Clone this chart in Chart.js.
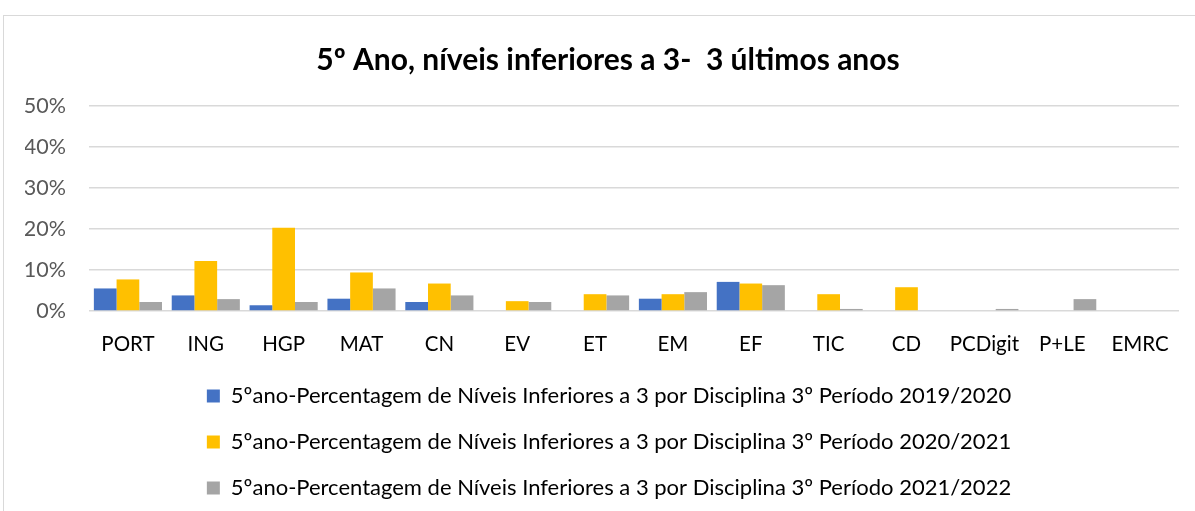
<!DOCTYPE html>
<html>
<head>
<meta charset="utf-8">
<script src="https://cdn.jsdelivr.net/npm/chart.js@4"></script>
<style>
  html, body { margin: 0; padding: 0; background: #fff; overflow: hidden; }
  #frame { position: absolute; left: 3px; top: 15px; width: 1400px; height: 700px; border: 1px solid #d9d9d9; box-sizing: border-box; }
  #wrap { position: absolute; left: 0; top: 0; width: 1195px; height: 511px; }
</style>
</head>
<body>
<div id="frame"></div>
<div id="wrap"><canvas id="c" width="1195" height="511"></canvas></div>
<script>
const categories = ["PORT","ING","HGP","MAT","CN","EV","ET","EM","EF","TIC","CD","PCDigit","P+LE","EMRC"];
const series2019 = [5.5, 3.8, 1.4, 3.0, 2.2, 0, 0, 3.0, 7.1, 0, 0, 0, 0, 0];
const series2020 = [7.7, 12.2, 20.3, 9.4, 6.7, 2.4, 4.1, 4.1, 6.7, 4.1, 5.8, 0, 0, 0];
const series2021 = [2.2, 2.9, 2.2, 5.5, 3.8, 2.2, 3.8, 4.6, 6.3, 0.5, 0, 0.5, 2.9, 0];
const seriesNames = [
  "5ºano-Percentagem de Níveis Inferiores a 3 por Disciplina 3º Período 2019/2020",
  "5ºano-Percentagem de Níveis Inferiores a 3 por Disciplina 3º Período 2020/2021",
  "5ºano-Percentagem de Níveis Inferiores a 3 por Disciplina 3º Período 2021/2022"
];
const yTicks = [0, 10, 20, 30, 40, 50];
const titleText = "5º Ano, níveis inferiores a 3-  3 últimos anos";

const FONT = "Lato, 'Liberation Sans', sans-serif";
const colors = ["#4472c4", "#ffc000", "#a5a5a5"];

const shiftBlocks = {
  id: "shiftBlocks",
  afterLayout(chart) {
    if (chart.titleBlock) { chart.titleBlock.left += 12; }
    if (chart.legend) { chart.legend.left += 12; chart.legend.right += 2; }
  }
};

new Chart(document.getElementById("c"), {
  type: "bar",
  data: {
    labels: categories,
    datasets: [series2019, series2020, series2021].map((d, i) => ({
      label: seriesNames[i],
      data: d,
      backgroundColor: colors[i],
      borderWidth: 0,
      barPercentage: 1.0,
      categoryPercentage: 0.875
    }))
  },
  plugins: [shiftBlocks],
  options: {
    responsive: false,
    animation: false,
    layout: { padding: { left: 25, right: 16, top: 0, bottom: 2 } },
    plugins: {
      title: {
        display: true,
        text: titleText,
        color: "#000",
        font: { family: FONT, size: 30, weight: "bold" },
        padding: { top: 42, bottom: 28 }
      },
      legend: {
        position: "bottom",
        labels: {
          color: "#000",
          font: { family: FONT, size: 22 },
          boxWidth: 13,
          boxHeight: 13,
          padding: 24
        }
      },
      tooltip: { enabled: false }
    },
    scales: {
      x: {
        grid: { display: false, drawTicks: false },
        border: { display: false },
        afterFit: (ax) => { ax.height = 50; },
        ticks: { color: "#000", font: { family: FONT, size: 20.5 }, padding: 21, autoSkip: false, maxRotation: 0 }
      },
      y: {
        min: 0, max: 50,
        afterBuildTicks: (ax) => { ax.ticks = yTicks.map(v => ({ value: v })); },
        afterFit: (ax) => { ax.width = 64; },
        grid: { color: "#d9d9d9", lineWidth: 1.5, drawTicks: false },
        border: { display: false },
        ticks: { color: "#595959", font: { family: FONT, size: 21.5 }, padding: 23, callback: v => v + "%" }
      }
    }
  }
});
</script>
</body>
</html>
